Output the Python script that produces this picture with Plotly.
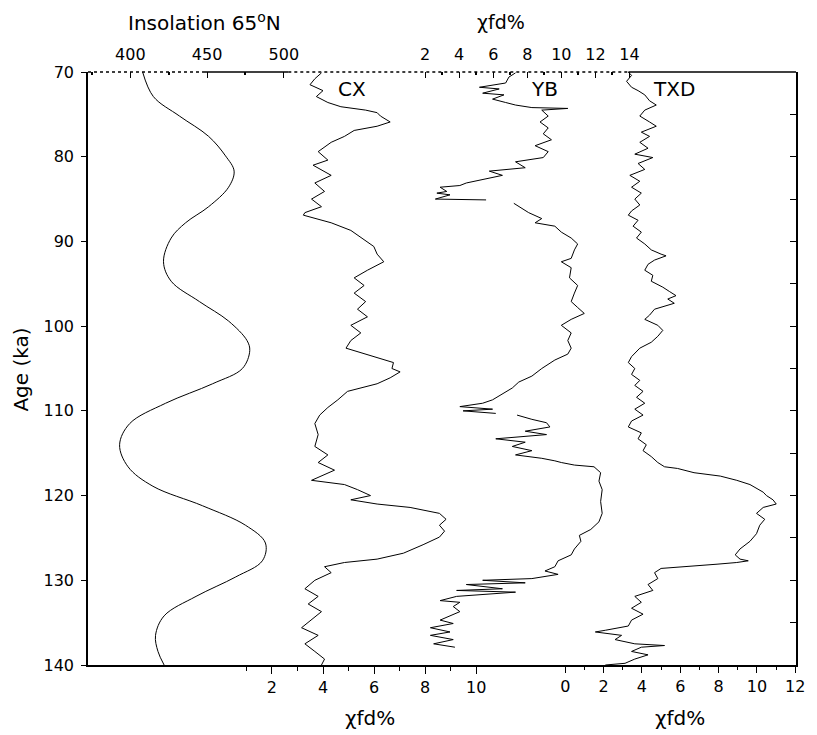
import plotly.graph_objects as go

# ---------------- data ----------------
ins_age = [70, 72.9, 75.2, 77.6, 79.9, 81.7, 83.6, 85.9, 87.8, 89.6, 92.4, 94.7, 97.1, 99.4,
           101.7, 102.9, 105.0, 106.8, 109.1, 111.5, 114.0, 116.6, 118.9, 121.2, 123.5,
           125.6, 127.7, 129.6, 131.9, 134.2, 136.5, 138.4, 140]
ins_val = [408, 415, 432, 451, 462, 467.6, 464, 451, 436, 426.6, 421.6, 426.6, 445, 464,
           476, 477.8, 473, 453.6, 423, 399.6, 393, 398.5, 414.7, 447, 475,
           488, 486, 468.7, 442.8, 422, 416.4, 418, 422]

cx_age = [70.1, 70.8, 71.5, 72.2, 72.9, 73.6, 74.1, 74.5, 74.8, 75.2, 75.9, 76.4, 76.9, 77.6,
          78.3, 79.4, 80.4, 81.0, 82.2, 83.1, 84.1, 85.0, 85.9, 86.6, 86.9, 87.8, 88.7,
          89.6, 90.6, 91.5, 92.4, 93.4, 94.3, 95.2, 96.1, 97.1, 98.0, 98.9, 99.9, 100.8,
          101.7, 102.6, 103.6, 104.3, 105.0, 105.4, 106.1, 106.8, 107.7, 108.7, 109.6,
          110.5, 111.5, 112.8, 114.2, 115.2, 116.1, 117.0, 118.2, 118.7, 119.3, 120.0,
          120.5, 121.0, 121.4, 122.1, 122.8, 123.5, 124.2, 124.9, 125.8, 126.8, 127.5,
          127.9, 128.4, 129.1, 130.0, 131.0, 131.9, 132.8, 133.7, 134.7, 135.6, 136.5,
          137.5, 138.4, 139.3, 140.0]
cx_val = [3.94, 3.68, 3.49, 4.0, 3.74, 4.19, 4.7, 5.67, 6.12, 6.25, 6.63, 6.12, 5.22, 4.84,
          4.32, 3.81, 4.19, 3.61, 4.32, 3.68, 4.06, 3.55, 3.94, 3.29, 3.23, 4.32, 5.09,
          5.54, 5.99, 6.12, 6.38, 5.74, 5.22, 5.61, 5.22, 5.67, 5.35, 5.74, 5.09, 5.48,
          5.09, 4.9, 5.99, 6.76, 6.70, 7.02, 6.63, 6.12, 4.96, 4.58, 4.19,
          3.87, 3.68, 3.81, 3.68, 4.19, 3.81, 4.45, 3.55, 4.84, 5.35, 5.86,
          5.09, 6.12, 7.41, 8.56, 8.82, 8.56, 8.76, 8.56, 7.92, 7.15, 6.12,
          4.84, 4.06, 4.32, 3.68, 3.29, 3.81, 3.42, 3.94, 3.55, 3.16, 3.81,
          3.29, 3.68, 4.06, 3.94]

yb_age = [70.1, 70.6, 71.3, 71.8, 72.0, 72.5, 72.7, 73.2, 73.6, 73.9, 74.2, 74.3, 74.5, 75.2,
          75.9, 76.6, 77.3, 78.0, 78.7, 79.4, 80.1, 80.6, 81.3, 81.7, 82.2, 82.7, 83.1,
          83.4, 83.6, 84.1, 84.3, 84.5, 85.0, 85.1, None,
          85.5, 85.9, 86.6, 87.3, 87.8, 88.2, 88.9, 89.6, 90.3, 91.0, 92.0, 92.4, 93.1,
          94.3, 95.2, 96.1, 97.1, 97.8, 98.5, 99.2, 99.9, 100.8, 101.7, 102.6, 103.3,
          104.0, 105.0, 105.9, 106.6, 107.3, 108.0, 108.7, 109.1, 109.5, 109.8, 110.0,
          110.3, None,
          110.5, 111.0, 111.4, 111.9, 112.4, 112.8, 113.3, 113.7, 114.2, 114.7, 115.2,
          115.6, 115.9, 116.1, 116.4, 116.6, 117.3, 118.3, 119.3, 120.7, 122.1, 123.1,
          124.0, 124.7, 125.4, 126.3, 127.0, 127.7, 128.4, 128.9, 129.3, 129.8, 130.0,
          130.3, 130.5, 131.0, 131.2, 131.4, 131.9, 132.4, 132.6, 133.1, 133.7, 134.2,
          134.7, 135.1, 135.6, 136.1, 136.5, 137.0, 137.5, 137.9]
yb_val = [7.31, 6.92, 6.73, 5.19, 6.35, 5.38, 6.63, 5.96, 6.73, 7.31, 8.27, 10.38, 8.85, 9.23,
          8.75, 9.23, 8.94, 9.42, 8.46, 9.23, 8.94, 7.31, 7.88, 5.77, 6.54, 5.29, 4.42,
          4.04, 2.88, 3.27, 2.69, 3.46, 2.6, 5.58, None,
          7.21, 7.5, 8.08, 8.85, 8.46, 9.62, 10.0, 10.58, 10.96, 10.77, 10.58, 10.0, 10.58,
          10.48, 10.96, 10.77, 10.58, 10.96, 11.35, 10.58, 10.0, 10.58, 10.38, 10.58, 10.38,
          9.62, 8.85, 8.27, 7.5, 7.12, 6.54, 5.96, 5.38, 4.04, 5.96, 4.23,
          6.15, None,
          7.4, 8.27, 9.13, 9.33, 7.88, 9.13, 6.15, 7.88, 7.12, 8.27, 7.31,
          8.85, 9.62, 10.0, 10.77, 11.92, 12.31, 12.21, 12.4, 12.31, 12.4, 12.21,
          11.73, 11.06, 11.15, 10.77, 10.58, 9.81, 9.62, 9.04, 9.81, 8.27, 5.38,
          7.88, 4.42, 6.54, 3.85, 7.31, 3.85, 2.88, 4.04, 3.65, 4.04, 3.46,
          2.88, 3.65, 2.31, 3.46, 2.31, 3.65, 2.5, 3.75]

txd_age = [70.0, 70.4, 71.1, 71.8, 72.2, 72.7, 73.4, 73.9, 74.5, 75.2, 75.9, 76.4, 77.1, 77.6,
           78.3, 79.0, 79.7, 80.1, 80.8, 81.5, 82.2, 82.9, 83.6, 84.3, 85.0, 85.7, 86.4,
           86.9, 87.5, 88.2, 88.9, 89.6, 90.3, 91.0, 91.5, 91.7, 92.2, 92.7, 93.4, 94.0,
           94.7, 95.4, 95.9, 96.4, 96.8, 97.3, 98.0, 98.7, 99.2, 99.9, 100.5, 101.2, 101.9,
           102.6, 103.6, 104.3, 105.0, 105.7, 106.4, 107.0, 107.7, 108.4, 109.1, 109.8,
           110.5, 111.2, 111.9, 112.6, 113.3, 114.0, 114.7, 115.4, 116.1, 116.6, 116.8,
           117.3, 117.7, 118.2, 118.7, 119.1, 119.6, 120.0, 120.5, 121.0, 121.4, 122.1,
           122.8, 123.5, 124.5, 125.4, 126.3, 127.0, 127.5, 127.7, 127.9, 128.1, 128.4,
           128.6, 129.1, 129.8, 130.5, 131.2, 131.9, 132.6, 133.3, 134.0, 134.7, 135.4,
           135.9, 136.1, 136.5, 137.0, 137.5, 137.7, 137.9, 138.4, 138.8, 139.3, 139.8, 140.0]
txd_val = [3.29, 3.46, 3.2, 3.46, 3.8, 4.15, 4.4, 4.75, 4.15, 3.89, 4.4, 4.75, 3.97, 4.4,
           3.89, 4.32, 3.63, 4.57, 3.8, 4.15, 3.37, 3.89, 3.46, 3.97, 3.63, 3.89, 3.46,
           3.29, 3.8, 3.54, 3.97, 3.72, 4.15, 4.49, 5.0, 5.26, 4.66, 4.32, 4.15, 4.57,
           4.49, 5.09, 5.43, 5.78, 5.35, 5.69, 4.66, 4.4, 4.15, 4.83, 5.09, 4.83, 4.49,
           3.89, 3.46, 3.29, 3.63, 3.46, 3.89, 3.63, 4.06, 3.72, 4.15, 3.63,
           4.06, 3.46, 3.29, 3.97, 3.8, 4.23, 4.06, 4.49, 4.83, 5.18, 5.86,
           6.72, 8.09, 8.95, 9.64, 9.98, 10.33, 10.5, 10.84, 11.01, 10.33, 9.98,
           10.41, 10.15, 9.98, 9.64, 9.12, 8.87, 9.12, 9.55, 8.95, 7.92, 6.03,
           5.0, 4.66, 4.83, 4.32, 4.57, 3.63, 3.97, 3.46, 4.06, 3.46, 3.29,
           2.09, 1.57, 2.94, 2.6, 3.63, 5.18, 3.97, 3.46, 4.32, 3.63, 3.12, 2.09]

age_ticks = [70, 80, 90, 100, 110, 120, 130, 140]
right_ticks = [70, 75, 80, 85, 90, 95, 100, 105, 110, 115, 120, 125, 130, 135, 140]
cx_ticks = [2, 4, 6, 8, 10]
cx_minor = [1, 3, 5, 7, 9]
txd_ticks = [0, 2, 4, 6, 8, 10, 12]
txd_minor = [1, 3, 5, 7, 9, 11]
ins_ticks = [400, 450, 500]
ins_minor = [375, 425, 475]
yb_ticks = [2, 4, 6, 8, 10, 12, 14]
yb_minor = [3, 5, 7, 9, 11, 13]

# ---------------- layout geometry (page pixels; the page body adds an 8px offset) ----
OFF = 8
WIN_W, WIN_H = 817, 735
L, R, T, B = 88, 802, 72, 665
FW, FH = WIN_W - OFF, WIN_H - OFF


def rng(v0, p0, v1, p1, pad=0.0):
    s = (p1 - p0) / (v1 - v0)
    return [v0 + (L - p0) / s, v0 + (R + pad - p0) / s]


def px(p):
    return (p - L) / (R - L)


def py(p):
    return (B - p) / (B - T)


FONT = "DejaVu Sans, sans-serif"
tickfont = dict(family=FONT, size=16, color="black")

fig = go.Figure()
line = dict(color="black", width=1)
fig.add_trace(go.Scatter(x=ins_val, y=ins_age, xaxis="x3", yaxis="y", mode="lines",
                         line=dict(color="black", width=1, shape="spline"), showlegend=False))
fig.add_trace(go.Scatter(x=cx_val, y=cx_age, xaxis="x", yaxis="y", mode="lines",
                         line=line, showlegend=False))
fig.add_trace(go.Scatter(x=yb_val, y=yb_age, xaxis="x4", yaxis="y", mode="lines",
                         line=line, showlegend=False, connectgaps=False))
fig.add_trace(go.Scatter(x=txd_val, y=txd_age, xaxis="x2", yaxis="y", mode="lines",
                         line=line, showlegend=False))
fig.add_trace(go.Scatter(x=[None], y=[None], xaxis="x", yaxis="y2", mode="lines",
                         showlegend=False))

common = dict(showgrid=False, zeroline=False, tickfont=tickfont, tickcolor="black",
              tickwidth=1.3, anchor="y")

fig.update_layout(
    width=FW, height=FH,
    margin=dict(l=L - OFF, r=FW + OFF - R, t=T - OFF, b=FH + OFF - B, pad=0),
    paper_bgcolor="white", plot_bgcolor="white",
    xaxis=dict(range=rng(2, 273.5, 10, 479.5), side="bottom", tickmode="array",
               tickvals=cx_ticks, ticks="outside", ticklen=7, showline=True,
               linecolor="black", linewidth=1.5,
               minor=dict(tickmode="array", tickvals=cx_minor, ticks="outside",
                          ticklen=4, tickcolor="black", tickwidth=1.2),
               **common),
    xaxis2=dict(range=rng(0, 569.5, 12, 801.5, pad=0.3), side="bottom", overlaying="x",
                tickmode="array", tickvals=txd_ticks, ticks="outside", ticklen=7,
                showline=False,
                minor=dict(tickmode="array", tickvals=txd_minor, ticks="outside",
                           ticklen=4, tickcolor="black", tickwidth=1.2),
                **common),
    xaxis3=dict(range=rng(400, 130.7, 500, 285.5), side="top", overlaying="x",
                tickmode="array", tickvals=ins_ticks, ticks="inside", ticklen=6,
                showline=False, ticklabelstandoff=8,
                minor=dict(tickmode="array", tickvals=ins_minor, ticks="inside",
                           ticklen=3, tickcolor="black", tickwidth=1.5),
                **common),
    xaxis4=dict(range=rng(2, 428, 14, 634), side="top", overlaying="x",
                tickmode="array", tickvals=yb_ticks, ticks="inside", ticklen=6,
                showline=False, ticklabelstandoff=8,
                minor=dict(tickmode="array", tickvals=yb_minor, ticks="inside",
                           ticklen=3, tickcolor="black", tickwidth=1.5),
                **common),
    yaxis=dict(range=[140, 70], tickmode="array", tickvals=age_ticks, ticks="outside",
               ticklen=5, showline=True, linecolor="black", linewidth=1.5,
               showgrid=False, zeroline=False, tickfont=tickfont, tickcolor="black",
               tickwidth=1.3, ticklabelstandoff=4, anchor="x"),
    yaxis2=dict(range=[140, 70], overlaying="y", side="right", anchor="x",
                tickmode="array", tickvals=right_ticks, ticks="inside", ticklen=6,
                showticklabels=False, showline=True, linecolor="black", linewidth=1.5,
                showgrid=False, zeroline=False, tickcolor="black", tickwidth=1.3),
)

# top frame line: broken (scanned) over the axis region, solid on the right
fig.add_shape(type="line", xref="paper", yref="paper", x0=px(L), x1=px(200), y0=1, y1=1,
              line=dict(color="black", width=1.5, dash="dot"))
fig.add_shape(type="line", xref="paper", yref="paper", x0=px(203), x1=px(290), y0=1, y1=1,
              line=dict(color="black", width=1.5))
fig.add_shape(type="line", xref="paper", yref="paper", x0=px(290), x1=px(633), y0=1, y1=1,
              line=dict(color="black", width=1.5, dash="dot"))
fig.add_shape(type="line", xref="paper", yref="paper", x0=px(633), x1=1, y0=1, y1=1,
              line=dict(color="black", width=1.5))

titlefont = dict(family=FONT, size=20, color="black")
ann = [
    dict(text="Insolation 65<sup>o</sup>N", x=px(205), y=py(22)),
    dict(text="χfd%", x=px(505), y=py(22), font=dict(family=FONT, size=19, color="black")),
    dict(text="χfd%", x=px(372), y=py(718)),
    dict(text="χfd%", x=px(685), y=py(718)),
    dict(text="Age (ka)", x=px(20), y=py(370), textangle=-90),
]
for a in ann:
    a.setdefault("font", titlefont)
    fig.add_annotation(xref="paper", yref="paper", showarrow=False,
                       xanchor="center", yanchor="middle", **a)

labfont = dict(family=FONT, size=20, color="black")
fig.add_annotation(text="CX", x=5.13, y=72.0, xref="x", yref="y", showarrow=False,
                   font=labfont, xanchor="center", yanchor="middle")
fig.add_annotation(text="YB", x=8.99, y=72.0, xref="x4", yref="y", showarrow=False,
                   font=labfont, xanchor="center", yanchor="middle")
fig.add_annotation(text="TXD", x=5.66, y=72.0, xref="x2", yref="y", showarrow=False,
                   font=labfont, xanchor="center", yanchor="middle")

fig.write_html("out.html")
